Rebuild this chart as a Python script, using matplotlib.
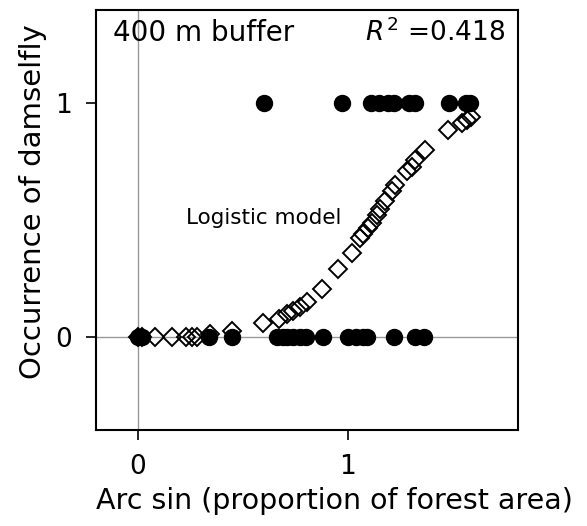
import numpy as np
import matplotlib
matplotlib.use('Agg')
import matplotlib.pyplot as plt

# observed occurrence (filled dots)
obs_x_present = [0.60, 0.97, 1.11, 1.15, 1.19, 1.22, 1.29, 1.32, 1.48, 1.56, 1.58]
obs_x_absent = [0.0, 0.02, 0.34, 0.45, 0.66, 0.69, 0.71, 0.74, 0.77, 0.80, 0.88,
                1.00, 1.04, 1.07, 1.09, 1.22, 1.32, 1.36]

# logistic model predictions (open diamonds)
model_x = [0.0, 0.02, 0.08, 0.16, 0.23, 0.255, 0.28, 0.345, 0.447,
           0.597, 0.673, 0.708, 0.74, 0.771, 0.803, 0.875, 0.954, 1.017,
           1.057, 1.073, 1.097, 1.113, 1.136, 1.152, 1.176, 1.208, 1.224,
           1.279, 1.303, 1.319, 1.367, 1.478, 1.541, 1.565, 1.584]
model_y = [0.0, 0.0, 0.0, 0.0, 0.0, 0.0, 0.0, 0.012, 0.025,
           0.06, 0.077, 0.098, 0.112, 0.126, 0.148, 0.204, 0.289, 0.36,
           0.424, 0.438, 0.467, 0.488, 0.523, 0.545, 0.58, 0.623, 0.651,
           0.708, 0.729, 0.757, 0.8, 0.885, 0.914, 0.928, 0.94]

plt.rcParams['font.family'] = ['DejaVu Sans']

fig = plt.figure(figsize=(5.87, 5.26), dpi=100)
ax = fig.add_axes([0.1635, 0.1825, 0.719, 0.7985])

ax.axhline(0, color='#999999', lw=1.0, zorder=0)
ax.axvline(0, color='#999999', lw=1.0, zorder=0)

ax.plot(obs_x_present, np.ones(len(obs_x_present)), 'o', color='black', ms=11.5, zorder=2)
ax.plot(obs_x_absent, np.zeros(len(obs_x_absent)), 'o', color='black', ms=11.5, zorder=2)
ax.plot(model_x, model_y, 'D', mfc='none', mec='black', mew=1.4, ms=9, zorder=3)

ax.set_xlim(-0.2, 1.81)
ax.set_ylim(-0.4, 1.4)
ax.set_xticks([0, 1])
ax.set_yticks([0, 1])
ax.tick_params(direction='out', length=7, width=1.2, labelsize=19, pad=10)
for s in ax.spines.values():
    s.set_linewidth(1.5)

ax.text(0.04, 0.945, '400 m buffer', transform=ax.transAxes, fontsize=20, va='center', ha='left')
ax.text(0.97, 0.945, r'$R$' + '$^{\\,2}$ =0.418', transform=ax.transAxes, fontsize=19, va='center', ha='right')
ax.text(0.6, 0.51, 'Logistic model', fontsize=15.5, ha='center', va='center')

ax.set_xlabel('Arc sin (proportion of forest area)', fontsize=20.5)
ax.set_ylabel('Occurrence of damselfly', fontsize=21)
ax.yaxis.set_label_coords(-0.115, 0.545)
ax.xaxis.set_label_coords(0.564, -0.135)

fig.savefig('out.png', dpi=100)
